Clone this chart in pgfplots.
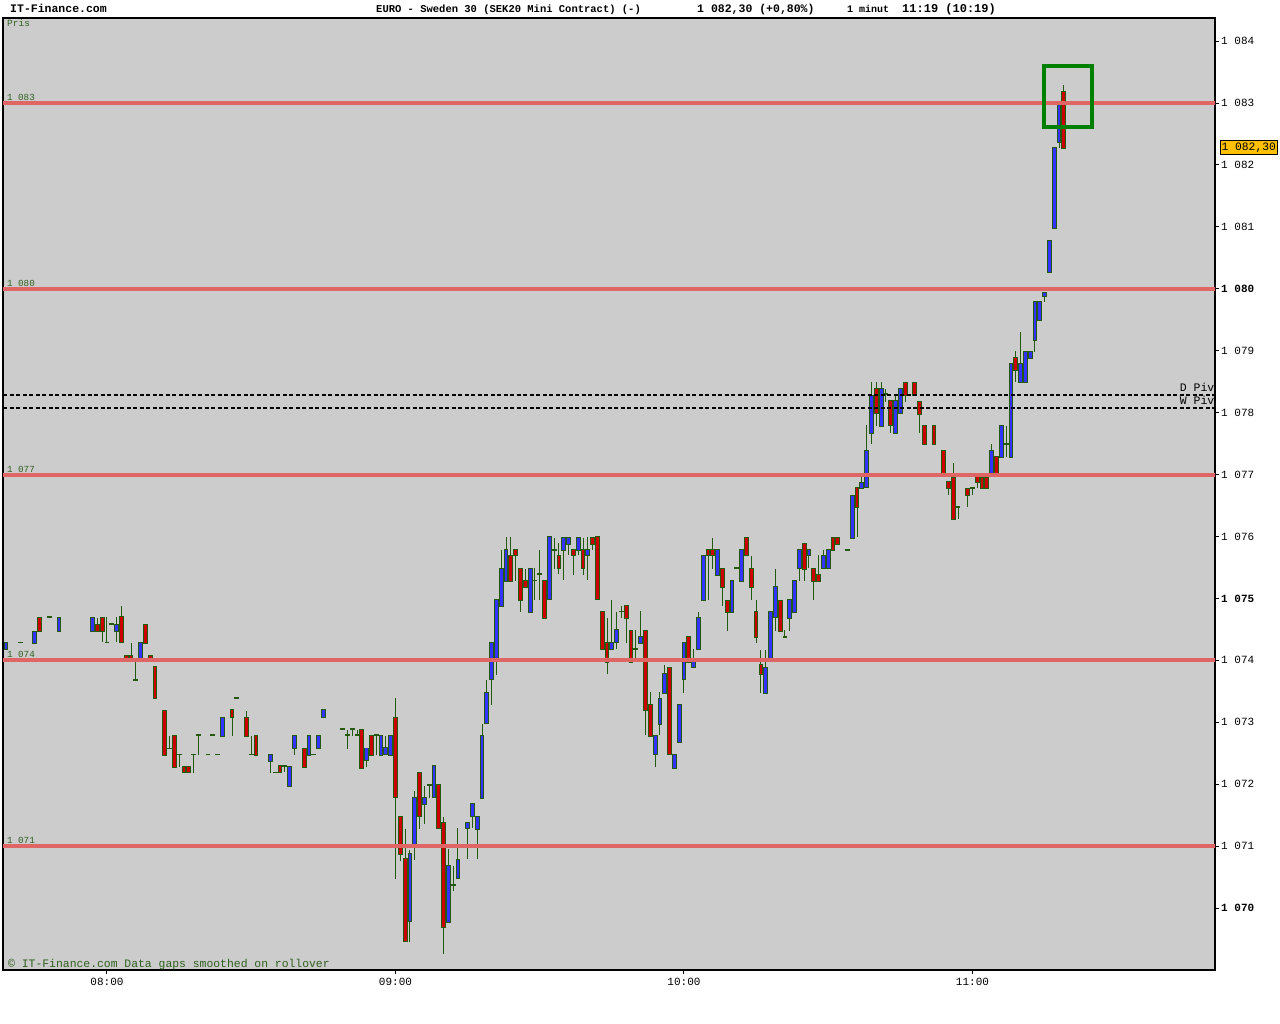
\documentclass[border=0pt]{standalone}
\usepackage{pgfplots}
\pgfplotsset{compat=1.18}
\usepackage{pgfplotstable}
\usepackage{fontspec}
\setmainfont{Liberation Mono}
\newcommand\fs[1]{\fontsize{#1}{#1}\selectfont}
\definecolor{bggray}{HTML}{CCCCCC}
\definecolor{wick}{HTML}{235A0F}
\definecolor{cblue}{HTML}{3333FF}
\definecolor{cred}{HTML}{CC0000}
\definecolor{lred}{HTML}{E06666}
\definecolor{boxgreen}{HTML}{008000}
\definecolor{tag}{HTML}{FFC000}
\definecolor{lgreen}{HTML}{2F5F1F}

% blue (rising) candles: minute from 08:00, open, high, low, close
\pgfplotstableread{
t o h l c
-21 1074.19 1074.30 1074.19 1074.30
-15 1074.29 1074.48 1074.29 1074.48
-10 1074.48 1074.70 1074.48 1074.70
-3 1074.48 1074.70 1074.48 1074.70
2 1074.48 1074.70 1074.29 1074.59
7 1074.01 1074.29 1074.01 1074.29
24 1072.79 1073.08 1072.79 1073.08
34 1072.38 1072.48 1072.19 1072.48
38 1071.98 1072.29 1071.98 1072.29
39 1072.58 1072.79 1072.48 1072.79
42 1072.48 1072.79 1072.48 1072.79
44 1072.58 1072.79 1072.58 1072.79
45 1073.08 1073.19 1073.08 1073.19
54 1072.38 1072.58 1072.28 1072.58
57 1072.48 1072.79 1072.48 1072.79
58 1072.48 1072.79 1072.48 1072.58
59 1072.48 1072.79 1072.48 1072.79
63 1069.78 1070.95 1069.47 1070.88
64 1071.02 1071.90 1070.79 1071.79
66 1071.69 1071.99 1071.38 1071.79
68 1071.79 1072.29 1071.79 1072.29
71 1069.78 1070.96 1069.78 1070.69
73 1070.48 1071.29 1070.48 1070.79
75 1071.29 1071.38 1070.79 1071.38
76 1071.49 1071.69 1071.29 1071.69
77 1071.29 1071.49 1070.79 1071.49
78 1071.79 1072.98 1071.79 1072.79
79 1072.98 1073.69 1072.98 1073.48
80 1073.69 1074.29 1073.28 1074.29
81 1073.98 1074.98 1073.78 1074.98
82 1074.88 1075.79 1074.88 1075.49
83 1075.29 1075.99 1075.29 1075.79
88 1074.79 1075.49 1074.79 1075.49
92 1074.98 1075.99 1074.98 1075.99
95 1075.79 1075.99 1075.29 1075.99
96 1075.89 1075.99 1075.70 1075.99
98 1075.79 1075.99 1075.70 1075.99
100 1075.70 1075.99 1075.29 1075.79
105 1074.19 1074.98 1074.19 1074.29
106 1074.29 1074.79 1074.19 1074.49
111 1074.29 1074.79 1074.29 1074.39
114 1072.49 1072.79 1072.28 1072.79
115 1072.98 1073.48 1072.79 1073.39
116 1073.48 1073.94 1073.48 1073.79
118 1072.28 1072.49 1072.28 1072.49
119 1072.69 1073.29 1072.69 1073.29
120 1073.69 1074.29 1073.48 1074.29
122 1073.89 1074.19 1073.89 1073.98
123 1074.19 1074.79 1074.19 1074.69
124 1074.98 1075.70 1074.98 1075.70
127 1075.39 1075.79 1075.39 1075.79
130 1074.79 1075.29 1074.79 1075.29
132 1075.29 1075.79 1075.29 1075.79
137 1073.48 1074.19 1073.48 1073.89
138 1074.00 1074.79 1074.00 1074.79
139 1074.69 1075.49 1074.49 1075.19
142 1074.69 1074.98 1074.49 1074.98
143 1074.79 1075.29 1074.79 1075.29
144 1075.49 1075.79 1075.29 1075.79
146 1075.70 1075.79 1075.49 1075.79
149 1075.49 1075.79 1075.49 1075.70
150 1075.49 1075.79 1075.49 1075.79
155 1075.99 1076.68 1075.99 1076.68
157 1076.79 1076.99 1076.79 1076.88
158 1076.79 1077.80 1076.79 1077.39
159 1077.68 1078.49 1077.49 1078.28
161 1077.79 1078.49 1077.79 1078.39
164 1077.68 1078.29 1077.68 1078.19
165 1077.99 1078.39 1077.99 1078.39
184 1076.99 1077.49 1076.99 1077.39
186 1077.29 1077.79 1077.29 1077.79
188 1077.29 1078.80 1077.29 1078.80
190 1078.49 1079.30 1078.49 1078.80
191 1078.49 1078.99 1078.49 1078.99
192 1078.89 1078.99 1078.89 1078.99
193 1079.18 1079.80 1078.99 1079.80
194 1079.49 1079.80 1079.49 1079.80
195 1079.89 1079.94 1079.79 1079.94
196 1080.27 1080.78 1080.27 1080.78
197 1080.99 1082.28 1080.99 1082.28
198 1082.39 1082.98 1082.28 1082.98
}\up

% red (falling) candles
\pgfplotstableread{
t o h l c
-14 1074.70 1074.70 1074.48 1074.48
-2 1074.59 1074.70 1074.48 1074.48
-1 1074.70 1074.70 1074.29 1074.48
3 1074.70 1074.89 1074.29 1074.29
4 1074.08 1074.08 1074.01 1074.01
5 1074.08 1074.29 1074.01 1074.01
8 1074.59 1074.59 1074.29 1074.29
9 1074.08 1074.08 1074.01 1074.01
10 1073.89 1073.89 1073.39 1073.39
12 1073.19 1073.19 1072.48 1072.48
14 1072.79 1072.79 1072.28 1072.28
16 1072.28 1072.28 1072.19 1072.19
17 1072.28 1072.28 1072.19 1072.19
26 1073.19 1073.19 1072.79 1073.08
29 1073.08 1073.19 1072.79 1072.79
31 1072.79 1072.79 1072.48 1072.48
36 1072.29 1072.29 1072.19 1072.19
41 1072.58 1072.58 1072.28 1072.28
53 1072.89 1072.89 1072.28 1072.28
55 1072.79 1072.79 1072.48 1072.48
60 1073.08 1073.39 1070.47 1071.79
61 1071.48 1071.48 1070.77 1070.88
62 1070.79 1071.29 1069.47 1069.47
65 1072.19 1072.19 1071.29 1071.49
69 1071.99 1071.99 1071.29 1071.29
70 1071.38 1071.49 1069.28 1069.69
84 1075.70 1075.99 1075.29 1075.29
85 1075.79 1075.79 1075.29 1075.70
86 1075.49 1075.49 1074.79 1074.98
87 1075.29 1075.49 1075.19 1075.19
91 1075.29 1075.29 1074.69 1074.69
94 1075.70 1075.89 1075.39 1075.49
97 1075.79 1075.79 1075.39 1075.70
99 1075.79 1075.99 1075.39 1075.49
101 1075.99 1075.99 1075.79 1075.89
102 1075.99 1075.99 1074.98 1074.98
103 1074.79 1074.79 1074.19 1074.19
104 1074.29 1074.69 1073.78 1073.98
108 1074.89 1074.89 1074.29 1074.69
109 1074.49 1074.49 1073.98 1073.98
112 1074.49 1074.49 1072.79 1073.20
113 1073.29 1073.48 1072.79 1072.79
117 1073.89 1073.89 1072.49 1072.49
121 1074.39 1074.39 1073.98 1073.98
125 1075.79 1075.79 1074.98 1075.70
126 1075.79 1075.99 1075.49 1075.70
128 1075.49 1075.49 1074.89 1075.19
129 1074.98 1074.98 1074.49 1074.79
133 1075.99 1075.99 1075.70 1075.70
134 1075.49 1075.70 1074.98 1075.19
135 1074.79 1074.98 1074.29 1074.38
136 1073.94 1074.19 1073.48 1073.79
140 1074.98 1074.98 1074.49 1074.49
145 1075.89 1075.89 1075.29 1075.49
147 1075.49 1075.49 1074.98 1075.29
148 1075.39 1075.70 1075.29 1075.29
151 1075.99 1075.99 1075.79 1075.79
152 1075.99 1075.99 1075.89 1075.89
156 1076.79 1076.79 1075.99 1076.48
160 1078.39 1078.49 1077.79 1077.99
163 1078.19 1078.19 1077.68 1077.79
166 1078.49 1078.49 1078.18 1078.29
168 1078.49 1078.49 1078.29 1078.29
169 1078.19 1078.19 1077.68 1077.99
170 1077.79 1077.79 1077.49 1077.49
172 1077.79 1077.79 1077.49 1077.49
174 1077.39 1077.39 1076.99 1076.99
175 1076.89 1076.89 1076.68 1076.79
176 1076.96 1077.19 1076.29 1076.29
179 1076.79 1076.79 1076.48 1076.68
181 1076.96 1076.96 1076.79 1076.88
182 1076.96 1076.96 1076.79 1076.79
183 1076.96 1076.96 1076.79 1076.79
185 1077.29 1077.29 1076.99 1076.99
189 1078.89 1078.99 1078.49 1078.69
199 1083.19 1083.29 1082.28 1082.28
}\dn

% unchanged minutes (open = close)
\pgfplotstableread{
t o h l c
-18 1074.29 1074.29 1074.29 1074.29
-12 1074.70 1074.70 1074.70 1074.70
0 1074.29 1074.70 1074.29 1074.29
1 1074.59 1074.59 1074.59 1074.59
6 1073.69 1074.00 1073.69 1073.69
13 1072.58 1072.79 1072.58 1072.58
15 1072.48 1072.48 1072.28 1072.48
18 1072.48 1072.48 1072.19 1072.48
19 1072.79 1072.79 1072.48 1072.79
21 1072.48 1072.48 1072.48 1072.48
22 1072.79 1072.79 1072.79 1072.79
23 1072.48 1072.48 1072.48 1072.48
27 1073.39 1073.39 1073.39 1073.39
30 1072.48 1072.79 1072.48 1072.48
35 1072.19 1072.19 1072.19 1072.19
37 1072.29 1072.29 1072.19 1072.29
43 1072.48 1072.48 1072.48 1072.48
49 1072.89 1072.89 1072.89 1072.89
50 1072.79 1072.89 1072.58 1072.79
51 1072.89 1072.89 1072.79 1072.89
52 1072.79 1072.89 1072.79 1072.79
56 1072.79 1072.79 1072.48 1072.79
67 1071.99 1071.99 1071.79 1071.99
72 1070.38 1070.69 1070.28 1070.38
89 1075.29 1075.49 1074.98 1075.29
90 1075.39 1075.79 1074.98 1075.39
93 1075.79 1075.99 1075.49 1075.79
107 1074.79 1074.89 1074.69 1074.79
110 1074.19 1074.49 1073.98 1074.19
131 1075.49 1075.49 1075.49 1075.49
141 1074.38 1074.49 1074.38 1074.38
154 1075.79 1075.79 1075.79 1075.79
162 1078.30 1078.39 1078.18 1078.30
177 1076.48 1076.48 1076.29 1076.48
180 1076.79 1076.79 1076.68 1076.79
187 1077.49 1077.79 1077.29 1077.49
}\dj

\pgfplotsset{
  wickstyle/.style={draw=none, fill=none, mark=none, forget plot,
    error bars/.cd, y dir=both, y explicit, error mark=none,
    error bar style={line width=1pt, draw=wick, solid}},
  bodystyle/.style 2 args={draw=none, fill=none, mark=none, forget plot,
    error bars/.cd, y dir=both, y explicit, error mark=none,
    error bar style={line width=#1, draw=#2, solid}},
}

\begin{document}
\begin{tikzpicture}
\path[use as bounding box, fill=white] (0,0) rectangle (1280pt,1024pt);
\begin{axis}[
  at={(3pt,54pt)}, anchor=south west,
  scale only axis, width=1212pt, height=952pt,
  xmin=-21.63, xmax=230.45, ymin=1069.0, ymax=1084.373,
  axis background/.style={fill=bggray},
  axis line style={black, line width=1.2pt},
  xtick={0,60,120,180}, xticklabels={08:00,09:00,10:00,11:00},
  ytick={1070,1071,...,1084},
  yticklabels={\textbf{1 070},1 071,1 072,1 073,1 074,\textbf{1 075},1 076,1 077,1 078,1 079,\textbf{1 080},1 081,1 082,1 083,1 084},
  xtick pos=bottom, ytick pos=right, yticklabel pos=right,
  tick align=outside, major tick length=4pt,
  tick style={black, line width=1pt},
  ticklabel style={font=\fs{11}},
  xticklabel style={anchor=north, inner sep=0pt, yshift=-3.5pt},
  yticklabel style={anchor=west, inner sep=0pt, xshift=2pt},
  clip=true,
]
% wicks
\addplot[wickstyle] table[x=t, y expr={(\thisrow{h}+\thisrow{l})/2}, y error expr={(\thisrow{h}-\thisrow{l})/2}] {\up};
\addplot[wickstyle] table[x=t, y expr={(\thisrow{h}+\thisrow{l})/2}, y error expr={(\thisrow{h}-\thisrow{l})/2}] {\dn};
\addplot[wickstyle] table[x=t, y expr={(\thisrow{h}+\thisrow{l})/2}, y error expr={(\thisrow{h}-\thisrow{l})/2}] {\dj};
% body outlines
\addplot[bodystyle={4.8pt}{wick}] table[x=t, y expr={(\thisrow{o}+\thisrow{c})/2}, y error expr={(\thisrow{c}-\thisrow{o})/2+0.0129}] {\up};
\addplot[bodystyle={4.8pt}{wick}] table[x=t, y expr={(\thisrow{o}+\thisrow{c})/2}, y error expr={(\thisrow{o}-\thisrow{c})/2+0.0129}] {\dn};
\addplot[bodystyle={4.8pt}{wick}] table[x=t, y expr={\thisrow{o}}, y error expr={0.0129}] {\dj};
% body fills
\addplot[bodystyle={2.8pt}{cblue}] table[x=t, y expr={(\thisrow{o}+\thisrow{c})/2}, y error expr={max((\thisrow{c}-\thisrow{o})/2-0.0032,0)}] {\up};
\addplot[bodystyle={2.8pt}{cred}] table[x=t, y expr={(\thisrow{o}+\thisrow{c})/2}, y error expr={max((\thisrow{o}-\thisrow{c})/2-0.0032,0)}] {\dn};
% support / resistance lines
\addplot[lred, line width=4pt, forget plot] coordinates {(-30,1083) (240,1083)};
\addplot[lred, line width=4pt, forget plot] coordinates {(-30,1080) (240,1080)};
\addplot[lred, line width=4pt, forget plot] coordinates {(-30,1077) (240,1077)};
\addplot[lred, line width=4pt, forget plot] coordinates {(-30,1074) (240,1074)};
\addplot[lred, line width=4pt, forget plot] coordinates {(-30,1071) (240,1071)};
% pivots
\addplot[black, line width=2pt, dash pattern=on 4pt off 2.5pt, forget plot] coordinates {(-21.63,1078.28) (230.45,1078.28)};
\addplot[black, line width=2pt, dash pattern=on 4pt off 2.5pt, forget plot] coordinates {(-21.63,1078.07) (230.45,1078.07)};
% highlight box
\addplot[boxgreen, line width=4pt, line join=miter, forget plot] coordinates {(194.9,1082.617) (204.9,1082.617) (204.9,1083.598) (194.9,1083.598) (194.9,1082.617) (204.9,1082.617)};
% labels
\node[anchor=base west, inner sep=0pt, text=lgreen, font=\fs{9.3}, xshift=3.8pt, yshift=2.4pt] at (axis cs:-21.63,1083) {1 083};
\node[anchor=base west, inner sep=0pt, text=lgreen, font=\fs{9.3}, xshift=3.8pt, yshift=2.4pt] at (axis cs:-21.63,1080) {1 080};
\node[anchor=base west, inner sep=0pt, text=lgreen, font=\fs{9.3}, xshift=3.8pt, yshift=2.4pt] at (axis cs:-21.63,1077) {1 077};
\node[anchor=base west, inner sep=0pt, text=lgreen, font=\fs{9.3}, xshift=3.8pt, yshift=2.4pt] at (axis cs:-21.63,1074) {1 074};
\node[anchor=base west, inner sep=0pt, text=lgreen, font=\fs{9.3}, xshift=3.8pt, yshift=2.4pt] at (axis cs:-21.63,1071) {1 071};
\node[anchor=base east, inner sep=0pt, font=\fs{11.5}, xshift=-0.5pt, yshift=3.4pt] at (axis cs:230.45,1078.28) {D Piv};
\node[anchor=base east, inner sep=0pt, font=\fs{11.5}, xshift=-0.5pt, yshift=3.4pt] at (axis cs:230.45,1078.07) {W Piv};
\end{axis}
% price tag
\node[anchor=west, draw=black, line width=0.8pt, fill=tag, inner xsep=1.2pt, inner ysep=2pt, font=\fs{11.3}] at (1220pt,876.5pt) {1 082,30};
% titles and notes
\node[anchor=base west, inner sep=0pt, font=\bfseries\fs{11.5}] at (10pt,1011.5pt) {IT-Finance.com};
\node[anchor=base west, inner sep=0pt, font=\bfseries\fs{10.5}] at (376pt,1011.5pt) {EURO - Sweden 30 (SEK20 Mini Contract) (-)};
\node[anchor=base west, inner sep=0pt, font=\bfseries\fs{11.5}] at (697pt,1011.5pt) {1 082,30 (+0,80\%)};
\node[anchor=base west, inner sep=0pt, font=\bfseries\fs{10}] at (847pt,1011.5pt) {1 minut};
\node[anchor=base west, inner sep=0pt, font=\bfseries\fs{12}] at (902pt,1011.5pt) {11:19 (10:19)};
\node[anchor=base west, inner sep=0pt, text=lgreen, font=\fs{9.5}] at (7pt,997pt) {Pris};
\node[anchor=base west, inner sep=0pt, text=lgreen, font=\fs{11.4}] at (8pt,56.5pt) {© IT-Finance.com Data gaps smoothed on rollover};
\end{tikzpicture}
\end{document}
